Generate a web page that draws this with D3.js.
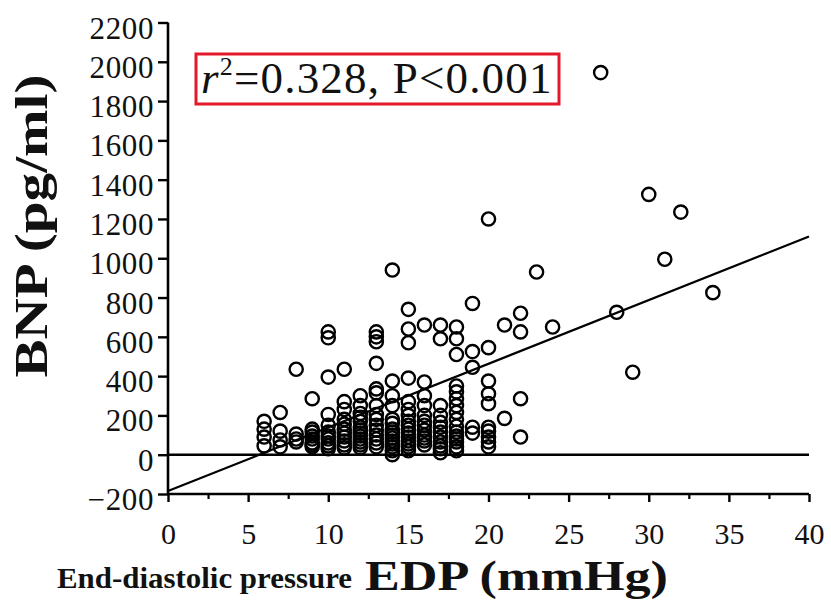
<!DOCTYPE html>
<html>
<head>
<meta charset="utf-8">
<script src="https://cdn.jsdelivr.net/npm/d3@7"></script>
<style>
  html, body { margin: 0; padding: 0; background: #fff; }
  svg { display: block; }
</style>
</head>
<body>
<svg id="chart" width="831" height="601"></svg>
<script>
// End-diastolic pressure (mmHg) for each patient
const edpValues = [
  6, 6, 6, 6,
  7, 7, 7, 7,
  8, 8, 8, 8,
  9, 9, 9, 9, 9, 9, 9, 9,
  10, 10, 10, 10, 10, 10, 10, 10, 10, 10, 10,
  11, 11, 11, 11, 11, 11, 11, 11, 11, 11, 11,
  12, 12, 12, 12, 12, 12, 12, 12, 12, 12, 12, 12, 12,
  13, 13, 13, 13, 13, 13, 13, 13, 13, 13, 13, 13, 13, 13, 13,
  14, 14, 14, 14, 14, 14, 14, 14, 14, 14, 14, 14, 14, 14, 14,
  15, 15, 15, 15, 15, 15, 15, 15, 15, 15, 15, 15, 15, 15, 15, 15,
  16, 16, 16, 16, 16, 16, 16, 16, 16, 16, 16, 16,
  17, 17, 17, 17, 17, 17, 17, 17, 17, 17, 17, 17,
  18, 18, 18, 18, 18, 18, 18, 18, 18, 18, 18, 18, 18, 18, 18, 18,
  19, 19, 19, 19, 19,
  20, 20, 20, 20, 20, 20, 20, 20, 20, 20,
  21, 21,
  22, 22, 22, 22,
  23, 24, 27, 28, 29, 30, 31, 32, 34
];

// BNP (pg/ml), same order as edpValues
const bnpValues = [
  170, 130, 90, 45,
  215, 120, 75, 40,
  435, 105, 80, 65,
  285, 130, 115, 95, 80, 60, 50, 40,
  625, 595, 395, 205, 150, 115, 95, 80, 60, 45, 30,
  435, 270, 230, 180, 155, 130, 110, 90, 70, 50, 35,
  300, 250, 210, 190, 170, 140, 125, 110, 95, 80, 65, 50, 35,
  625, 600, 575, 465, 335, 315, 250, 205, 180, 150, 125, 100, 80, 60, 40,
  940, 375, 300, 250, 180, 160, 130, 115, 100, 85, 70, 55, 40, 20, 0,
  740, 640, 570, 390, 270, 230, 200, 170, 150, 130, 110, 90, 70, 55, 40, 20,
  660, 370, 300, 250, 200, 170, 150, 125, 100, 85, 70, 50,
  660, 590, 250, 200, 165, 140, 115, 90, 65, 45, 30, 10,
  650, 590, 510, 350, 320, 285, 250, 215, 180, 145, 115, 95, 80, 65, 40, 20,
  770, 525, 445, 140, 110,
  1200, 545, 375, 310, 260, 140, 120, 90, 65, 40,
  660, 185,
  720, 625, 285, 90,
  930, 650, 1945, 725, 420, 1325, 995, 1235, 825
];

// Axis ticks
const xTicks = [0, 5, 10, 15, 20, 25, 30, 35, 40];
const xMinorTicks = [2.5, 7.5, 12.5, 17.5, 22.5, 27.5, 32.5, 37.5];
const yTicks = [-200, 0, 200, 400, 600, 800, 1000, 1200, 1400, 1600, 1800, 2000, 2200];

// Least-squares fit line: BNP = intercept + slope * EDP
const fitIntercept = -185;
const fitSlope = 32.4;
const fitRange = [0, 40];

const svg = d3.select("#chart");
const serif = "'Liberation Serif', 'Times New Roman', serif";

const x = d3.scaleLinear().domain([0, 40]).range([168, 809]);
const y = d3.scaleLinear().domain([-200, 2200]).range([494, 22.5]);

const points = edpValues.map((e, i) => ({ edp: e, bnp: bnpValues[i] }));

// y axis
const yAxis = svg.append("g")
  .attr("transform", `translate(${x(0)},0)`)
  .call(d3.axisLeft(y).tickValues(yTicks).tickSize(10).tickPadding(4).tickFormat(d3.format("d")));
yAxis.select(".domain").attr("stroke", "#000").attr("stroke-width", 2.6).attr("d", `M0,${y(2200)}V${y(-200)}`);
yAxis.selectAll(".tick line").attr("stroke", "#000").attr("stroke-width", 2.4);
yAxis.selectAll(".tick text")
  .attr("font-family", serif).attr("font-size", 31).attr("fill", "#111")
  .attr("letter-spacing", 0.6)
  .attr("dy", "0.5em");

// x axis (major + minor ticks)
const xAxis = svg.append("g")
  .attr("transform", `translate(0,${y(-200)})`)
  .call(d3.axisBottom(x).tickValues(xTicks).tickSize(8).tickPadding(21));
xAxis.select(".domain").attr("stroke", "#000").attr("stroke-width", 2.6).attr("d", `M${x(0)},0H${x(40)}`);
xAxis.selectAll(".tick line").attr("stroke", "#000").attr("stroke-width", 2.4);
xAxis.selectAll(".tick text")
  .attr("font-family", serif).attr("font-size", 30).attr("fill", "#111");

const xMinor = svg.append("g")
  .attr("transform", `translate(0,${y(-200)})`)
  .call(d3.axisBottom(x).tickValues(xMinorTicks).tickSize(5).tickFormat(""));
xMinor.select(".domain").remove();
xMinor.selectAll(".tick line").attr("stroke", "#000").attr("stroke-width", 2.2);

// zero reference line
svg.append("line")
  .attr("x1", x(0)).attr("x2", x(40))
  .attr("y1", y(0)).attr("y2", y(0))
  .attr("stroke", "#000").attr("stroke-width", 2.4);

// data points
svg.append("g").selectAll("circle")
  .data(points)
  .join("circle")
  .attr("cx", d => x(d.edp))
  .attr("cy", d => y(d.bnp))
  .attr("r", 6.6)
  .attr("fill", "none")
  .attr("stroke", "#000")
  .attr("stroke-width", 2.4);

// regression line
svg.append("line")
  .attr("x1", x(fitRange[0])).attr("y1", y(fitIntercept + fitSlope * fitRange[0]))
  .attr("x2", x(fitRange[1])).attr("y2", y(fitIntercept + fitSlope * fitRange[1]))
  .attr("stroke", "#000").attr("stroke-width", 2.2);

// statistics box
svg.append("rect")
  .attr("x", 196).attr("y", 54).attr("width", 363).attr("height", 50)
  .attr("fill", "#fff").attr("stroke", "#e3182a").attr("stroke-width", 3);
const stat = svg.append("text")
  .attr("x", 201).attr("y", 93)
  .attr("font-family", serif).attr("font-size", 45).attr("fill", "#111")
  .attr("letter-spacing", 1.2);
stat.append("tspan").attr("font-style", "italic").text("r");
stat.append("tspan").attr("font-size", 26).attr("dy", -18).text("2");
stat.append("tspan").attr("dy", 18).text("=0.328, P<0.001");

// axis titles
svg.append("text")
  .attr("transform", "translate(47,226) rotate(-90)")
  .attr("text-anchor", "middle")
  .attr("font-family", serif).attr("font-weight", "bold").attr("font-size", 46)
  .attr("textLength", 303).attr("lengthAdjust", "spacingAndGlyphs")
  .attr("fill", "#111")
  .text("BNP (pg/ml)");

svg.append("text")
  .attr("x", 57).attr("y", 588)
  .attr("font-family", serif).attr("font-weight", "bold").attr("font-size", 29)
  .attr("textLength", 295).attr("lengthAdjust", "spacingAndGlyphs")
  .attr("fill", "#111")
  .text("End-diastolic pressure");

svg.append("text")
  .attr("x", 365).attr("y", 590)
  .attr("font-family", serif).attr("font-weight", "bold").attr("font-size", 42)
  .attr("textLength", 303).attr("lengthAdjust", "spacingAndGlyphs")
  .attr("fill", "#111")
  .text("EDP (mmHg)");
</script>
</body>
</html>
